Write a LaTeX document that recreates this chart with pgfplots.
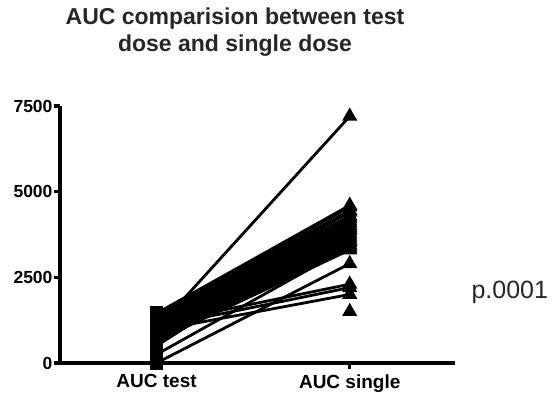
\documentclass[border=0pt]{standalone}
\usepackage{fontspec}
\setmainfont{Liberation Sans}
\usepackage{pgfplots}
\pgfplotsset{compat=1.18}
\begin{document}
\begin{tikzpicture}[x=1pt,y=1pt]
\useasboundingbox (-60,-30) rectangle (499,363);
\begin{axis}[
  at={(0,0)}, anchor=south west,
  scale only axis, width=395pt, height=257pt,
  xmin=0.5, xmax=2.545, ymin=0, ymax=7500,
  axis x line=bottom, axis y line=left,
  axis line style={line width=4pt, -},
  xtick={1,2}, xticklabels={AUC test,AUC single},
  ytick={0,2500,5000,7500},
  tick style={line width=3.5pt, black},
  tick align=outside, major tick length=6pt,
  x tick label style={font=\fontsize{19}{21}\selectfont\bfseries, yshift=-2pt},
  y tick label style={font=\fontsize{17.5}{19}\selectfont\bfseries, xshift=2pt},
  /pgf/number format/assume math mode=true,
  /pgf/number format/1000 sep={},
  clip=false,
  every axis plot/.append style={line width=2.8pt, black},
]
% paired lines
\addplot[no marks] coordinates {(1,1450) (2,4600)};
\addplot[no marks] coordinates {(1,1400) (2,4550)};
\addplot[no marks] coordinates {(1,1350) (2,4450)};
\addplot[no marks] coordinates {(1,1300) (2,4400)};
\addplot[no marks] coordinates {(1,1280) (2,4300)};
\addplot[no marks] coordinates {(1,1250) (2,4250)};
\addplot[no marks] coordinates {(1,1200) (2,4200)};
\addplot[no marks] coordinates {(1,1180) (2,4150)};
\addplot[no marks] coordinates {(1,1150) (2,4100)};
\addplot[no marks] coordinates {(1,1120) (2,4050)};
\addplot[no marks] coordinates {(1,1100) (2,4000)};
\addplot[no marks] coordinates {(1,1080) (2,3950)};
\addplot[no marks] coordinates {(1,1050) (2,3900)};
\addplot[no marks] coordinates {(1,1020) (2,3850)};
\addplot[no marks] coordinates {(1,1000) (2,3800)};
\addplot[no marks] coordinates {(1,980) (2,3750)};
\addplot[no marks] coordinates {(1,950) (2,3700)};
\addplot[no marks] coordinates {(1,920) (2,3650)};
\addplot[no marks] coordinates {(1,900) (2,3600)};
\addplot[no marks] coordinates {(1,870) (2,3550)};
\addplot[no marks] coordinates {(1,850) (2,3500)};
\addplot[no marks] coordinates {(1,800) (2,3450)};
\addplot[no marks] coordinates {(1,750) (2,3400)};
\addplot[no marks] coordinates {(1,700) (2,3350)};
\addplot[no marks] coordinates {(1,650) (2,3300)};
\addplot[no marks] coordinates {(1,600) (2,3600)};
\addplot[no marks] coordinates {(1,550) (2,3900)};
\addplot[no marks] coordinates {(1,500) (2,4100)};
\addplot[no marks] coordinates {(1,250) (2,3400)};
\addplot[no marks] coordinates {(1,1000) (2,7200)};
\addplot[no marks] coordinates {(1,1150) (2,2300)};
\addplot[no marks] coordinates {(1,1050) (2,2200)};
\addplot[no marks] coordinates {(1,950) (2,2000)};
\addplot[no marks] coordinates {(1,0) (2,2900)};
% test markers
\addplot[only marks, mark=square*, mark size=5.5pt] coordinates {
(1,1450)(1,1400)(1,1350)(1,1300)(1,1280)(1,1250)(1,1200)(1,1180)(1,1150)(1,1120)
(1,1100)(1,1080)(1,1050)(1,1020)(1,1000)(1,980)(1,950)(1,920)(1,900)(1,870)
(1,850)(1,800)(1,750)(1,700)(1,650)(1,600)(1,550)(1,500)(1,250)(1,0)};
% single markers
\addplot[only marks, mark=triangle*, mark size=6pt] coordinates {
(2,4600)(2,4550)(2,4450)(2,4400)(2,4300)(2,4250)(2,4200)(2,4150)(2,4100)(2,4050)
(2,4000)(2,3950)(2,3900)(2,3850)(2,3800)(2,3750)(2,3700)(2,3650)(2,3600)(2,3550)
(2,3500)(2,3450)(2,3400)(2,3350)(2,3300)(2,7200)(2,2300)(2,2200)(2,2000)(2,2900)(2,1500)};
\end{axis}
\node[font=\fontsize{23}{27}\selectfont\bfseries, align=center, text=black!85] at (175,331)
  {AUC comparision between test\\dose and single dose};
\node[font=\fontsize{25}{28}\selectfont, text=black!85, anchor=west] at (408,71) {p.0001};
\end{tikzpicture}
\end{document}
